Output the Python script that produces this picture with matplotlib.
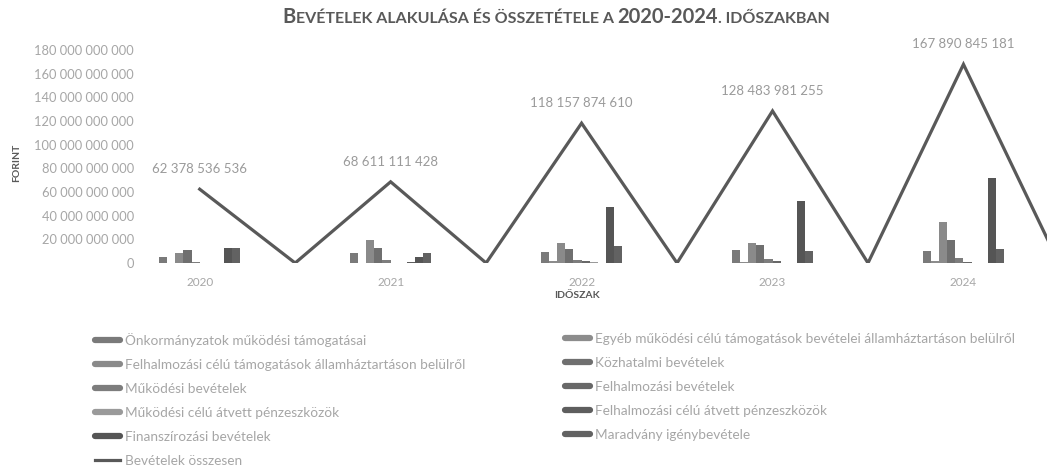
import matplotlib
matplotlib.use("Agg")
import matplotlib.pyplot as plt
from matplotlib.lines import Line2D
from matplotlib.ticker import FuncFormatter

plt.rcParams['font.family'] = ['Lato', 'DejaVu Sans']

years = ['2020', '2021', '2022', '2023', '2024']
totals = [62378536536, 68611111428, 118157874610, 128483981255, 167890845181]
total_labels = ['62 378 536 536', '68 611 111 428', '118 157 874 610',
                '128 483 981 255', '167 890 845 181']

series_names = [
    'Önkormányzatok működési támogatásai',
    'Egyéb működési célú támogatások bevételei államháztartáson belülről',
    'Felhalmozási célú támogatások államháztartáson belülről',
    'Közhatalmi bevételek',
    'Működési bevételek',
    'Felhalmozási bevételek',
    'Működési célú átvett pénzeszközök',
    'Felhalmozási célú átvett pénzeszközök',
    'Finanszírozási bevételek',
    'Maradvány igénybevétele',
]
total_name = 'Bevételek összesen'

# milliárd Ft
onkorm_tam = [5.0, 8.5, 9.0, 11.0, 10.0]
egyeb_tam = [0.3, 0.2, 1.5, 1.0, 1.5]
felh_tam = [8.5, 19.5, 17.0, 17.0, 35.0]
kozhatalmi = [11.0, 13.0, 12.0, 15.0, 19.5]
mukodesi = [0.8, 2.5, 2.5, 3.5, 4.5]
felh_bev = [0.2, 0.3, 1.5, 1.5, 0.5]
muk_atvett = [0.1, 0.2, 1.0, 0.3, 0.2]
felh_atvett = [0.1, 1.0, 0.3, 0.2, 0.1]
finansz = [13.0, 5.0, 47.0, 52.0, 72.0]
maradvany = [13.0, 8.5, 14.0, 10.0, 12.0]

series_vals = [onkorm_tam, egyeb_tam, felh_tam, kozhatalmi, mukodesi,
               felh_bev, muk_atvett, felh_atvett, finansz, maradvany]
bar_colors = ['#7a7a7a', '#8c8c8c', '#8a8a8a', '#6f6f6f', '#7d7d7d',
              '#686868', '#9a9a9a', '#5e5e5e', '#555555', '#626262']
line_color = '#595959'

fig = plt.figure(figsize=(10.47, 4.70), dpi=100)
W, H = 1047, 470
ax = fig.add_axes([145 / W, 1 - 263 / H, 1 - 145 / W, (263 - 50) / H])

x = list(range(len(years)))
bw = 8.2 / 192
for i, (vals, col) in enumerate(zip(series_vals, bar_colors)):
    pos = [xi + (i - 4.5) * bw for xi in x]
    ax.bar(pos, [v * 1e9 for v in vals], width=bw, color=col, zorder=2)

# total line drops back to zero between the years
line_x, line_y = [], []
for xi, t in zip(x, totals):
    line_x += [xi, xi + 0.5]
    line_y += [t, 0]
ax.plot(line_x, line_y, color=line_color, lw=2.3, zorder=3,
        solid_joinstyle='miter')

for xi, t, lab in zip(x, totals, total_labels):
    ax.annotate(lab, (xi, t), xytext=(0, 10), textcoords='offset points',
                ha='center', va='bottom', fontsize=9.5, color='#9a9a9a')

ax.set_xlim(-55 / 192, (W - 195) / 192)
ax.set_ylim(0, 180e9)
ax.set_yticks([i * 20e9 for i in range(10)])
ax.yaxis.set_major_formatter(FuncFormatter(lambda v, p: f'{v:,.0f}'.replace(',', ' ')))
ax.set_xticks(x)
ax.set_xticklabels(years)
ax.tick_params(length=0, labelsize=9.3, colors='#a6a6a6')
ax.tick_params(axis='x', labelsize=8.5, pad=10)
ax.tick_params(axis='y', pad=8)
for s in ax.spines.values():
    s.set_visible(False)

# axis titles
fig.text(577 / W, 1 - 296 / H, 'IDŐSZAK', ha='center', va='center',
         fontsize=7.5, fontweight='bold', color='#595959')
fig.text(17 / W, 1 - 163 / H, 'FORINT', ha='center', va='center', rotation=90,
         fontsize=7.5, fontweight='bold', color='#595959')

# title in small caps, built from pieces
parts = [('B', 14.5), ('EVÉTELEK ALAKULÁSA ÉS ÖSSZETÉTELE A ', 11.5),
         ('2020-2024', 14.5), ('. IDŐSZAKBAN', 11.5)]
renderer = fig.canvas.get_renderer()
texts, widths = [], []
for s, fs in parts:
    t = fig.text(0, 1 - 23 / H, s, fontsize=fs, fontweight='bold',
                 color='#595959', ha='left', va='baseline')
    texts.append(t)
    widths.append(t.get_window_extent(renderer).width)
xpos = 556 - sum(widths) / 2
for t, w in zip(texts, widths):
    t.set_x(xpos / W)
    xpos += w

# legend: two columns, Excel row order
handles = [Line2D([], [], color=c, lw=4.5, solid_capstyle='round') for c in bar_colors]
total_handle = Line2D([], [], color=line_color, lw=2.3)
left_h = [handles[i] for i in range(0, 10, 2)] + [total_handle]
left_l = [series_names[i] for i in range(0, 10, 2)] + [total_name]
right_h = [handles[i] for i in range(1, 10, 2)]
right_l = [series_names[i] for i in range(1, 10, 2)]
leg_kw = dict(loc='upper left', frameon=False, fontsize=9.8, labelcolor='#a6a6a6',
              handlelength=1.85, handletextpad=0.35, labelspacing=0.88,
              borderpad=0, borderaxespad=0)
fig.legend(left_h, left_l, bbox_to_anchor=(95 / W, 1 - 333 / H), **leg_kw)
fig.legend(right_h, right_l, bbox_to_anchor=(565 / W, 1 - 333 / H), **leg_kw)

fig.savefig('out.png', dpi=100)
